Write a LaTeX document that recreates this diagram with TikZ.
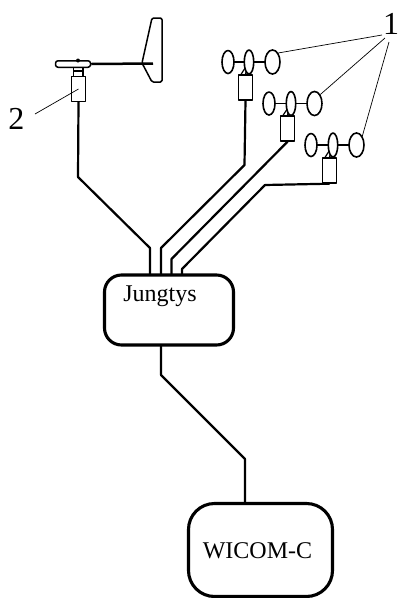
\documentclass[tikz,border=0pt]{standalone}
\usepackage{fontspec}
\usetikzlibrary{calc,shapes.geometric}
\setmainfont{Liberation Serif}
\begin{document}
\begin{tikzpicture}[x=1pt,y=-1pt,line join=round,
  bigbox/.style={draw,line width=3.1pt,rounded corners=17pt,inner sep=0pt,font=\fontsize{24}{24}\selectfont},
  wire/.style={line width=2.2pt},
  sensor/.style={draw,line width=1.4pt,inner sep=0pt,minimum width=13.5pt,minimum height=25pt},
  cup/.style={draw,line width=1.6pt,ellipse,fill=white,inner sep=0pt},
  leader/.style={line width=0.7pt},
  num/.style={inner sep=0pt,font=\fontsize{32}{32}\selectfont}]
\useasboundingbox (0,0) rectangle (401,598);
% boxes
\node[bigbox,minimum width=129pt,minimum height=70pt] (jung) at (169,310) {};
\node[inner sep=0pt,font=\fontsize{24}{24}\selectfont] (jungt) at (160,296) {Jungtys};
\node[bigbox,rounded corners=26pt,minimum width=144pt,minimum height=93pt] (wicom) at (260.5,550) {};
\node[inner sep=0pt,font=\fontsize{24}{24}\selectfont] (wicomt) at (257.5,551) {WICOM-C};
% sensors
\node[sensor] (s0) at (78.5,89) {};
\node[sensor] (s1) at (245.5,87.5) {};
\node[sensor] (s2) at (287.5,128.5) {};
\node[sensor] (s3) at (329.5,170.5) {};
% wires
\draw[wire] (s0.south) -- (78,177) -- (150,248) -- (150,275);
\draw[wire] (s1.south) -- (244.5,165) -- (161,248) -- (161,275);
\draw[wire] (s2.south) -- (171.5,259) -- (171.5,275);
\draw[wire] (s3.south) -- (265,185) -- (182,269) -- (182,275);
\coordinate (jb) at (161,345);
\coordinate (wt) at (245,503);
\draw[wire] (jb) -- (161,375) -- (245,459) -- (wt);
% vane
\node[draw,line width=1.5pt,fill=white,rounded corners=2.5pt,minimum width=35pt,minimum height=6.5pt,inner sep=0pt] (hub) at (73,64) {};
\draw[line width=2.5pt] (hub.east) -- (153,63.5);
\draw[line width=1.5pt,rounded corners=1.5pt] (152,18) -- (162,18) -- (162,82) -- (152,82) -- (142,63) -- cycle;
\draw[line width=1.6pt] (73.5,67.5) -- (73.5,76.5) (83,67.5) -- (83,76.5);
\draw[line width=1.6pt] (73.5,71) -- (83,71);
\fill (78,60.5) circle (2pt);
% cups
\foreach \n/\y/\a/\b/\c/\sn in {a/62/228/249/272.5/s1,b/103.5/269/291/314.5/s2,c/145/311/333/356.5/s3}{
  \draw[line width=1.7pt] (\a,\y) -- (\c,\y);
  \draw[line width=1.4pt] (\b,\y) -- (\sn.north);
  \draw[line width=1.2pt] ($(\sn.north west)+(3,0)$) -- (\b,\y) -- ($(\sn.north east)+(-3,0)$);
  \node[cup,minimum width=12pt,minimum height=23pt] (\n l) at (\a,\y) {};
  \node[cup,minimum width=9.5pt,minimum height=24pt] (\n m) at (\b,\y) {};
  \node[cup,minimum width=15pt,minimum height=24pt] (\n r) at (\c,\y) {};
}
% labels
\node[num] (one) at (391,24) {1};
\node[num] (two) at (16.5,119) {2};
\coordinate (o1) at (382,35);
\coordinate (o2) at (385,38);
\coordinate (o3) at (389,42);
\coordinate (t1) at (35,114);
\draw[leader] (o1) -- (ar.north east);
\draw[leader] (o2) -- (br.north east);
\draw[leader] (o3) -- (cr.north east);
\draw[leader] (t1) -- (s0.center);
\end{tikzpicture}
\end{document}
